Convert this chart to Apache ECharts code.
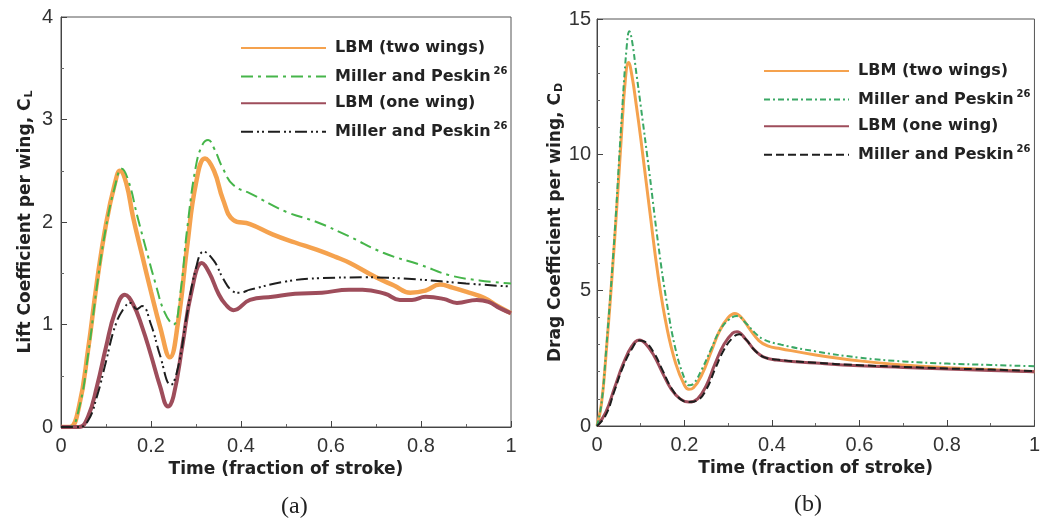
<!DOCTYPE html>
<html>
<head>
<meta charset="utf-8">
<script src="https://cdn.jsdelivr.net/npm/echarts@6/dist/echarts.min.js"></script>
<style>
html,body{margin:0;padding:0;background:#fff;}
#chart{width:1043px;height:524px;}
</style>
</head>
<body>
<div id="chart"></div>
<script>
// ---------- Panel (a): lift coefficient ----------
const tLiftLbm2 = [0,0.02,0.04,0.06,0.08,0.10,0.12,0.131,0.145,0.16,0.18,0.20,0.22,0.242,0.26,0.28,0.30,0.32,0.34,0.36,0.383,0.42,0.47,0.52,0.568,0.61,0.642,0.70,0.74,0.776,0.81,0.842,0.87,0.90,0.94,0.97,1.0];
const vLiftLbm2 = [0,0,0.2,0.75,1.42,1.98,2.38,2.5,2.38,2.05,1.68,1.32,0.98,0.68,1.02,1.75,2.38,2.62,2.5,2.22,2.02,1.98,1.88,1.8,1.73,1.66,1.6,1.46,1.38,1.31,1.33,1.39,1.36,1.32,1.26,1.18,1.11];

const tLiftMp2 = [0,0.02,0.04,0.06,0.08,0.10,0.12,0.135,0.15,0.17,0.19,0.21,0.23,0.25,0.265,0.28,0.30,0.315,0.327,0.34,0.36,0.383,0.42,0.50,0.568,0.64,0.716,0.80,0.864,0.93,1.0];
const vLiftMp2 = [0,0,0.18,0.7,1.38,1.95,2.35,2.52,2.4,2.05,1.72,1.4,1.12,1.0,1.3,1.92,2.55,2.76,2.8,2.72,2.52,2.36,2.28,2.1,2.0,1.86,1.7,1.58,1.48,1.43,1.4];

const tLiftLbm1 = [0,0.04,0.06,0.08,0.10,0.12,0.142,0.16,0.18,0.20,0.22,0.238,0.25,0.27,0.29,0.313,0.33,0.35,0.365,0.383,0.42,0.47,0.52,0.58,0.64,0.67,0.72,0.753,0.78,0.81,0.85,0.88,0.924,0.95,0.975,1.0];
const vLiftLbm1 = [0,0,0.1,0.4,0.78,1.12,1.29,1.2,0.98,0.7,0.4,0.2,0.3,0.8,1.32,1.6,1.5,1.3,1.2,1.14,1.24,1.27,1.3,1.31,1.34,1.34,1.3,1.24,1.24,1.27,1.25,1.21,1.24,1.22,1.16,1.11];

const tLiftMp1 = [0,0.04,0.06,0.08,0.10,0.12,0.14,0.155,0.168,0.18,0.20,0.22,0.244,0.26,0.28,0.30,0.317,0.34,0.36,0.38,0.398,0.42,0.50,0.568,0.68,0.79,0.90,1.0];
const vLiftMp1 = [0,0,0.06,0.3,0.64,0.98,1.16,1.21,1.15,1.18,1.0,0.7,0.41,0.58,1.1,1.55,1.71,1.62,1.45,1.33,1.31,1.34,1.42,1.45,1.46,1.44,1.4,1.37];

// ---------- Panel (b): drag coefficient ----------
const tDragLbm2 = [0,0.01,0.02,0.04,0.055,0.065,0.072,0.08,0.09,0.10,0.12,0.14,0.16,0.18,0.20,0.21,0.22,0.24,0.26,0.28,0.30,0.315,0.33,0.35,0.37,0.39,0.42,0.5,0.6,0.7,0.8,0.9,1.0];
const vDragLbm2 = [0,0.8,2.5,6.8,10.5,12.8,13.4,12.9,11.8,10.6,8.0,5.5,3.6,2.3,1.5,1.35,1.4,1.9,2.7,3.5,4.0,4.15,4.0,3.55,3.15,2.95,2.85,2.62,2.4,2.25,2.15,2.08,2.0];

const tDragMp2 = [0,0.01,0.02,0.04,0.055,0.068,0.074,0.08,0.09,0.10,0.12,0.14,0.16,0.18,0.20,0.21,0.22,0.24,0.26,0.28,0.30,0.32,0.34,0.36,0.38,0.42,0.5,0.6,0.7,0.8,0.9,1.0];
const vDragMp2 = [0,0.8,2.6,7.0,11.0,14.0,14.55,14.2,13.0,11.8,9.3,6.7,4.5,2.8,1.75,1.5,1.55,2.1,2.8,3.5,3.9,4.05,3.8,3.45,3.2,3.0,2.75,2.52,2.38,2.3,2.25,2.2];

const tDragLbm1 = [0,0.02,0.04,0.06,0.08,0.097,0.11,0.13,0.15,0.17,0.19,0.21,0.23,0.25,0.27,0.29,0.31,0.32,0.34,0.36,0.38,0.41,0.5,0.6,0.7,0.8,0.9,1.0];
const vDragLbm1 = [0,0.5,1.4,2.3,2.95,3.17,3.05,2.6,1.95,1.35,1.0,0.88,1.0,1.5,2.3,3.0,3.42,3.47,3.2,2.8,2.55,2.43,2.32,2.22,2.16,2.1,2.05,2.0];

const tDragMp1 = [0,0.02,0.04,0.06,0.08,0.097,0.11,0.13,0.15,0.17,0.19,0.21,0.23,0.25,0.27,0.29,0.31,0.325,0.34,0.36,0.38,0.41,0.5,0.6,0.7,0.8,0.9,1.0];
const vDragMp1 = [0,0.4,1.3,2.2,2.85,3.15,3.1,2.7,2.05,1.4,1.0,0.88,0.95,1.35,2.1,2.8,3.25,3.38,3.2,2.8,2.55,2.45,2.33,2.24,2.18,2.12,2.08,2.02];

// tick labels / axis ranges
const xTicks = [0, 0.2, 0.4, 0.6, 0.8, 1];
const liftTicks = [0, 1, 2, 3, 4];
const dragTicks = [0, 5, 10, 15];

const legendText = {
  aLbm2: 'LBM (two wings)', aMp2: 'Miller and Peskin', aLbm1: 'LBM (one wing)', aMp1: 'Miller and Peskin',
  bLbm2: 'LBM (two wings)', bMp2: 'Miller and Peskin', bLbm1: 'LBM (one wing)', bMp1: 'Miller and Peskin'
};

function pairs(t, v){ return t.map((x,i)=>[x, v[i]]); }

const FONT = 'Liberation Sans, Arial, sans-serif';
const BFONT = 'DejaVu Sans, Liberation Sans, sans-serif';
const ORANGE = '#f5a24e', GREEN = '#46b54a', GREEN_B = '#3aa865', MAROON = '#9e4d5b', BLACK = '#1e1e1e';
const SMOOTH = 0.45;

function xAxisCfg(idx){
  return {
    type:'value', gridIndex: idx, min:0, max:1, interval:0.2,
    name:'Time (fraction of stroke)', nameLocation:'middle', nameGap: 32,
    nameTextStyle:{fontFamily:BFONT, fontWeight:'bold', fontSize:17, color:'#222'},
    axisLine:{show:true, lineStyle:{color:'#444', width:1}},
    axisTick:{show:true, inside:true, length:6, lineStyle:{color:'#444'}},
    minorTick:{show:true, splitNumber:2, length:3, lineStyle:{color:'#666'}},
    axisLabel:{fontFamily:FONT, fontSize:20, color:'#333', margin:9,
      formatter: v => xTicks.indexOf(Math.round(v*10)/10) >= 0 ? String(Math.round(v*10)/10) : ''},
    splitLine:{show:false}
  };
}

function legendCfg(names, left, top, gap){
  return {
    data:names, left:left, top:top, orient:'vertical',
    itemWidth:85, itemHeight:10, itemGap:gap, selectedMode:false,
    itemStyle:{opacity:0},
    formatter: n => n.indexOf('Mp')>=0 ? '{t|'+legendText[n]+'}{s|26}' : '{t|'+legendText[n]+'}',
    textStyle:{padding:[0,0,0,4], rich:{
      t:{fontFamily:BFONT, fontWeight:'bold', fontSize:16, color:'#222', lineHeight:18},
      s:{fontFamily:BFONT, fontWeight:'bold', fontSize:10, color:'#222', padding:[0,0,10,3]}
    }}
  };
}

const option = {
  backgroundColor:'#fff',
  animation:false,
  grid:[
    {left:61, top:17, width:450, height:410, show:true, borderColor:'#555', borderWidth:1, backgroundColor:'transparent'},
    {left:597, top:19, width:445, height:407, show:true, borderColor:'#555', borderWidth:1, backgroundColor:'transparent'}
  ],
  xAxis:[ xAxisCfg(0), xAxisCfg(1) ],
  yAxis:[
    {type:'value', gridIndex:0, min:liftTicks[0], max:liftTicks[liftTicks.length-1], interval:1,
      name:'{t|Lift Coefficient per wing, C}{s|L}', nameLocation:'middle', nameGap:26, nameRotate:90,
      nameTextStyle:{rich:{
        t:{fontFamily:BFONT, fontWeight:'bold', fontSize:17, color:'#222'},
        s:{fontFamily:BFONT, fontWeight:'bold', fontSize:11, color:'#222', padding:[8,0,0,1]}
      }},
      axisLine:{show:true, lineStyle:{color:'#444'}},
      axisTick:{show:true, inside:true, length:6, lineStyle:{color:'#444'}},
      minorTick:{show:true, splitNumber:2, length:3, lineStyle:{color:'#666'}},
      axisLabel:{fontFamily:FONT, fontSize:20, color:'#333', margin:8},
      splitLine:{show:false}},
    {type:'value', gridIndex:1, min:dragTicks[0], max:dragTicks[dragTicks.length-1], interval:5,
      name:'{t|Drag Coefficient per wing, C}{s|D}', nameLocation:'middle', nameGap:32, nameRotate:90,
      nameTextStyle:{rich:{
        t:{fontFamily:BFONT, fontWeight:'bold', fontSize:17, color:'#222'},
        s:{fontFamily:BFONT, fontWeight:'bold', fontSize:11, color:'#222', padding:[8,0,0,1]}
      }},
      axisLine:{show:true, lineStyle:{color:'#444'}},
      axisTick:{show:true, inside:true, length:6, lineStyle:{color:'#444'}},
      minorTick:{show:true, splitNumber:5, length:3, lineStyle:{color:'#666'}},
      axisLabel:{fontFamily:FONT, fontSize:20, color:'#333', margin:6},
      splitLine:{show:false}}
  ],
  legend:[
    legendCfg(['aLbm2','aMp2','aLbm1','aMp1'], 235, 35, 10.6),
    legendCfg(['bLbm2','bMp2','bLbm1','bMp1'], 758, 58, 10.6)
  ],
  graphic:[
    {type:'text', left:281, top:495, style:{text:'(a)', font:'24px "Liberation Serif", "Times New Roman", serif', fill:'#222'}},
    {type:'text', left:794, top:493, style:{text:'(b)', font:'24px "Liberation Serif", "Times New Roman", serif', fill:'#222'}}
  ],
  series:[
    {name:'aLbm2', type:'line', xAxisIndex:0, yAxisIndex:0, data:pairs(tLiftLbm2, vLiftLbm2), symbol:'none', smooth:SMOOTH,
      lineStyle:{color:ORANGE, width:4.5}, itemStyle:{color:ORANGE}, z:2},
    {name:'aMp2', type:'line', xAxisIndex:0, yAxisIndex:0, data:pairs(tLiftMp2, vLiftMp2), symbol:'none', smooth:SMOOTH,
      lineStyle:{color:GREEN, width:2, type:[12,5,3,5]}, itemStyle:{color:GREEN}, z:3},
    {name:'aLbm1', type:'line', xAxisIndex:0, yAxisIndex:0, data:pairs(tLiftLbm1, vLiftLbm1), symbol:'none', smooth:SMOOTH,
      lineStyle:{color:MAROON, width:4}, itemStyle:{color:MAROON}, z:2},
    {name:'aMp1', type:'line', xAxisIndex:0, yAxisIndex:0, data:pairs(tLiftMp1, vLiftMp1), symbol:'none', smooth:SMOOTH,
      lineStyle:{color:BLACK, width:2, type:[12,4,2,3,2,4]}, itemStyle:{color:BLACK}, z:3},

    {name:'bLbm2', type:'line', xAxisIndex:1, yAxisIndex:1, data:pairs(tDragLbm2, vDragLbm2), symbol:'none', smooth:SMOOTH,
      lineStyle:{color:ORANGE, width:3}, itemStyle:{color:ORANGE}, z:2},
    {name:'bMp2', type:'line', xAxisIndex:1, yAxisIndex:1, data:pairs(tDragMp2, vDragMp2), symbol:'none', smooth:SMOOTH,
      lineStyle:{color:GREEN_B, width:2, type:[6,3,2,3]}, itemStyle:{color:GREEN_B}, z:3},
    {name:'bLbm1', type:'line', xAxisIndex:1, yAxisIndex:1, data:pairs(tDragLbm1, vDragLbm1), symbol:'none', smooth:SMOOTH,
      lineStyle:{color:MAROON, width:3}, itemStyle:{color:MAROON}, z:2},
    {name:'bMp1', type:'line', xAxisIndex:1, yAxisIndex:1, data:pairs(tDragMp1, vDragMp1), symbol:'none', smooth:SMOOTH,
      lineStyle:{color:BLACK, width:2, type:[8,4]}, itemStyle:{color:BLACK}, z:3}
  ]
};

const chart = echarts.init(document.getElementById('chart'), null, {renderer:'canvas'});
chart.setOption(option);
</script>
</body>
</html>
